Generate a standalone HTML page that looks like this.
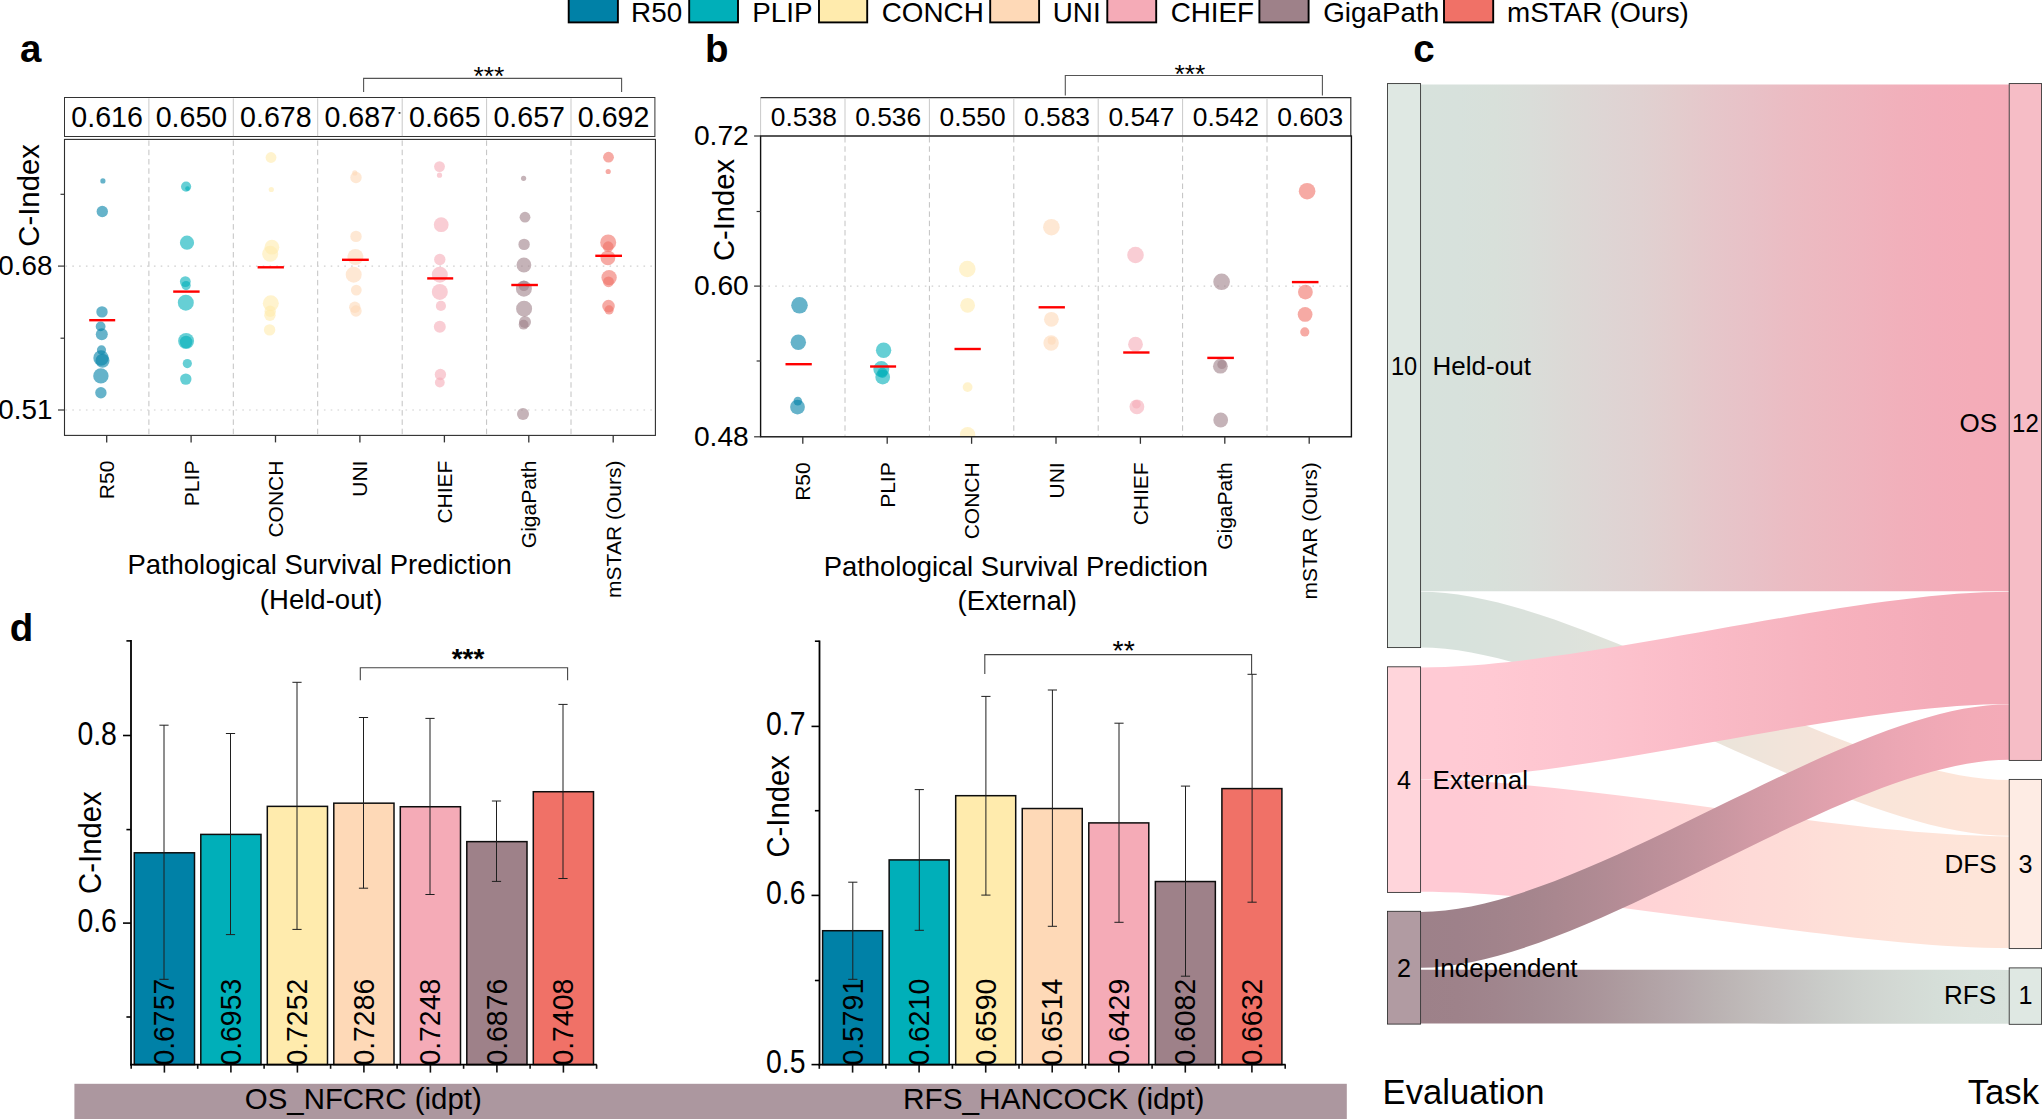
<!DOCTYPE html>
<html lang="en">
<head>
<meta charset="utf-8">
<title>Figure: survival prediction comparison</title>
<style>
html,body{margin:0;padding:0;background:#fff;}
body{width:2042px;height:1119px;overflow:hidden;}
svg{display:block;font-family:"Liberation Sans", Arial, sans-serif;}
text{fill:#000;}
</style>
</head>
<body>
<svg width="2042" height="1119" viewBox="0 0 2042 1119">
<rect x="0" y="0" width="2042" height="1119" fill="#fff"/>
<rect x="568.70" y="-3.00" width="49.20" height="25.40" fill="#0081A7" stroke="#000" stroke-width="1.9"/>
<text x="631.1" y="21.6" font-size="27.8">R50</text>
<rect x="689.20" y="-3.00" width="48.80" height="25.40" fill="#00AFB9" stroke="#000" stroke-width="1.9"/>
<text x="752.2" y="21.6" font-size="27.8">PLIP</text>
<rect x="819.00" y="-3.00" width="48.20" height="25.40" fill="#FFEBAD" stroke="#000" stroke-width="1.9"/>
<text x="881.8" y="21.6" font-size="27.8">CONCH</text>
<rect x="990.20" y="-3.00" width="48.90" height="25.40" fill="#FED9B7" stroke="#000" stroke-width="1.9"/>
<text x="1052.8" y="21.6" font-size="27.8">UNI</text>
<rect x="1107.30" y="-3.00" width="48.90" height="25.40" fill="#F5ABB7" stroke="#000" stroke-width="1.9"/>
<text x="1170.7" y="21.6" font-size="27.8">CHIEF</text>
<rect x="1259.40" y="-3.00" width="49.20" height="25.40" fill="#9E8189" stroke="#000" stroke-width="1.9"/>
<text x="1323.2" y="21.6" font-size="27.8">GigaPath</text>
<rect x="1444.00" y="-3.00" width="49.20" height="25.40" fill="#F07167" stroke="#000" stroke-width="1.9"/>
<text x="1507.1" y="21.6" font-size="27.8">mSTAR (Ours)</text>
<text x="20.0" y="61.7" font-size="38.5" font-weight="bold">a</text>
<text x="704.9" y="61.7" font-size="38.5" font-weight="bold">b</text>
<text x="1413.2" y="61.5" font-size="38.5" font-weight="bold">c</text>
<text x="9.8" y="641.0" font-size="38.5" font-weight="bold">d</text>
<rect x="64.50" y="97.50" width="590.40" height="39.00" fill="#fff" stroke="#333" stroke-width="1.0"/>
<line x1="148.9" y1="98.39999999999999" x2="148.9" y2="136.1" stroke="#c9c9c9" stroke-width="1"/>
<line x1="233.3" y1="98.39999999999999" x2="233.3" y2="136.1" stroke="#c9c9c9" stroke-width="1"/>
<line x1="317.7" y1="98.39999999999999" x2="317.7" y2="136.1" stroke="#c9c9c9" stroke-width="1"/>
<line x1="402.2" y1="98.39999999999999" x2="402.2" y2="136.1" stroke="#c9c9c9" stroke-width="1"/>
<line x1="486.6" y1="98.39999999999999" x2="486.6" y2="136.1" stroke="#c9c9c9" stroke-width="1"/>
<line x1="571.0" y1="98.39999999999999" x2="571.0" y2="136.1" stroke="#c9c9c9" stroke-width="1"/>
<text x="107.1" y="127.4" font-size="28.6" text-anchor="middle">0.616</text>
<text x="191.5" y="127.4" font-size="28.6" text-anchor="middle">0.650</text>
<text x="275.9" y="127.4" font-size="28.6" text-anchor="middle">0.678</text>
<text x="360.3" y="127.4" font-size="28.6" text-anchor="middle">0.687</text>
<text x="444.8" y="127.4" font-size="28.6" text-anchor="middle">0.665</text>
<text x="529.2" y="127.4" font-size="28.6" text-anchor="middle">0.657</text>
<text x="613.6" y="127.4" font-size="28.6" text-anchor="middle">0.692</text>
<line x1="148.9" y1="140.4" x2="148.9" y2="434.4" stroke="#c2c2c2" stroke-width="1.0" stroke-dasharray="5.5 3.8"/>
<line x1="233.3" y1="140.4" x2="233.3" y2="434.4" stroke="#c2c2c2" stroke-width="1.0" stroke-dasharray="5.5 3.8"/>
<line x1="317.7" y1="140.4" x2="317.7" y2="434.4" stroke="#c2c2c2" stroke-width="1.0" stroke-dasharray="5.5 3.8"/>
<line x1="402.2" y1="140.4" x2="402.2" y2="434.4" stroke="#c2c2c2" stroke-width="1.0" stroke-dasharray="5.5 3.8"/>
<line x1="486.6" y1="140.4" x2="486.6" y2="434.4" stroke="#c2c2c2" stroke-width="1.0" stroke-dasharray="5.5 3.8"/>
<line x1="571.0" y1="140.4" x2="571.0" y2="434.4" stroke="#c2c2c2" stroke-width="1.0" stroke-dasharray="5.5 3.8"/>
<line x1="65.5" y1="266.1" x2="654.4" y2="266.1" stroke="#cfcfcf" stroke-width="1.2" stroke-dasharray="1.6 5.2"/>
<line x1="65.5" y1="410.0" x2="654.4" y2="410.0" stroke="#cfcfcf" stroke-width="1.2" stroke-dasharray="1.6 5.2"/>
<clipPath id="clipA"><rect x="64.5" y="139.4" width="590.9" height="296.0"/></clipPath>
<g clip-path="url(#clipA)" fill-opacity="0.6">
<circle cx="102.9" cy="180.9" r="2.6" fill="#0081A7"/>
<circle cx="102.3" cy="211.5" r="5.7" fill="#0081A7"/>
<circle cx="102.0" cy="311.9" r="5.7" fill="#0081A7"/>
<circle cx="100.6" cy="326.4" r="4.9" fill="#0081A7"/>
<circle cx="101.8" cy="334.2" r="6.0" fill="#0081A7"/>
<circle cx="101.5" cy="349.9" r="4.6" fill="#0081A7"/>
<circle cx="101.0" cy="358.0" r="7.7" fill="#0081A7"/>
<circle cx="102.5" cy="360.8" r="7.0" fill="#0081A7"/>
<circle cx="100.9" cy="375.9" r="7.7" fill="#0081A7"/>
<circle cx="100.9" cy="392.8" r="5.7" fill="#0081A7"/>
<circle cx="186.1" cy="186.6" r="5.1" fill="#00AFB9"/>
<circle cx="187.5" cy="188.6" r="2.3" fill="#00AFB9"/>
<circle cx="187.0" cy="242.7" r="7.1" fill="#00AFB9"/>
<circle cx="185.3" cy="281.6" r="5.4" fill="#00AFB9"/>
<circle cx="186.1" cy="285.6" r="4.6" fill="#00AFB9"/>
<circle cx="185.8" cy="302.7" r="8.0" fill="#00AFB9"/>
<circle cx="186.1" cy="341.0" r="8.0" fill="#00AFB9"/>
<circle cx="186.1" cy="342.0" r="6.3" fill="#00AFB9"/>
<circle cx="187.3" cy="363.6" r="4.6" fill="#00AFB9"/>
<circle cx="185.8" cy="379.1" r="5.7" fill="#00AFB9"/>
<circle cx="271.0" cy="157.5" r="5.4" fill="#FFEBAD"/>
<circle cx="271.3" cy="189.5" r="2.6" fill="#FFEBAD"/>
<circle cx="271.9" cy="247.2" r="7.4" fill="#FFEBAD"/>
<circle cx="270.2" cy="253.8" r="8.0" fill="#FFEBAD"/>
<circle cx="270.8" cy="303.3" r="8.0" fill="#FFEBAD"/>
<circle cx="270.2" cy="311.3" r="5.7" fill="#FFEBAD"/>
<circle cx="269.9" cy="315.3" r="5.7" fill="#FFEBAD"/>
<circle cx="269.6" cy="329.9" r="5.7" fill="#FFEBAD"/>
<circle cx="354.8" cy="172.9" r="2.6" fill="#FED9B7"/>
<circle cx="356.0" cy="177.5" r="5.7" fill="#FED9B7"/>
<circle cx="356.0" cy="236.4" r="5.7" fill="#FED9B7"/>
<circle cx="355.4" cy="257.0" r="8.0" fill="#FED9B7"/>
<circle cx="353.7" cy="274.7" r="8.0" fill="#FED9B7"/>
<circle cx="356.3" cy="290.1" r="5.4" fill="#FED9B7"/>
<circle cx="354.8" cy="307.3" r="5.7" fill="#FED9B7"/>
<circle cx="356.0" cy="311.0" r="5.7" fill="#FED9B7"/>
<circle cx="439.5" cy="166.6" r="5.4" fill="#F5ABB7"/>
<circle cx="439.5" cy="175.2" r="2.6" fill="#F5ABB7"/>
<circle cx="441.2" cy="224.7" r="7.4" fill="#F5ABB7"/>
<circle cx="439.8" cy="259.5" r="5.7" fill="#F5ABB7"/>
<circle cx="439.8" cy="274.7" r="8.0" fill="#F5ABB7"/>
<circle cx="439.8" cy="291.9" r="8.0" fill="#F5ABB7"/>
<circle cx="440.9" cy="305.9" r="5.1" fill="#F5ABB7"/>
<circle cx="439.8" cy="326.7" r="6.0" fill="#F5ABB7"/>
<circle cx="440.4" cy="374.5" r="5.7" fill="#F5ABB7"/>
<circle cx="439.8" cy="382.5" r="4.9" fill="#F5ABB7"/>
<circle cx="523.6" cy="178.3" r="2.6" fill="#9E8189"/>
<circle cx="525.0" cy="217.2" r="5.4" fill="#9E8189"/>
<circle cx="524.1" cy="244.4" r="5.7" fill="#9E8189"/>
<circle cx="523.9" cy="265.0" r="7.4" fill="#9E8189"/>
<circle cx="523.9" cy="288.7" r="8.0" fill="#9E8189"/>
<circle cx="523.9" cy="285.8" r="5.2" fill="#9E8189"/>
<circle cx="524.1" cy="308.7" r="8.0" fill="#9E8189"/>
<circle cx="525.0" cy="321.9" r="6.0" fill="#9E8189"/>
<circle cx="523.6" cy="324.7" r="4.9" fill="#9E8189"/>
<circle cx="523.0" cy="414.0" r="6.0" fill="#9E8189"/>
<circle cx="608.5" cy="157.2" r="5.4" fill="#F07167"/>
<circle cx="608.2" cy="171.5" r="2.6" fill="#F07167"/>
<circle cx="608.2" cy="242.4" r="8.0" fill="#F07167"/>
<circle cx="608.2" cy="246.7" r="5.4" fill="#F07167"/>
<circle cx="607.9" cy="257.8" r="7.4" fill="#F07167"/>
<circle cx="609.1" cy="277.6" r="7.7" fill="#F07167"/>
<circle cx="608.5" cy="281.8" r="5.4" fill="#F07167"/>
<circle cx="608.5" cy="306.1" r="6.3" fill="#F07167"/>
<circle cx="609.1" cy="309.9" r="4.6" fill="#F07167"/>
</g>
<line x1="89.2" y1="320.2" x2="115.2" y2="320.2" stroke="#FF0000" stroke-width="2.4"/>
<line x1="173.2" y1="291.6" x2="199.6" y2="291.6" stroke="#FF0000" stroke-width="2.4"/>
<line x1="257.6" y1="267.3" x2="283.9" y2="267.3" stroke="#FF0000" stroke-width="2.4"/>
<line x1="342.0" y1="259.8" x2="368.8" y2="259.8" stroke="#FF0000" stroke-width="2.4"/>
<line x1="427.2" y1="278.4" x2="453.2" y2="278.4" stroke="#FF0000" stroke-width="2.4"/>
<line x1="511.3" y1="285.0" x2="537.9" y2="285.0" stroke="#FF0000" stroke-width="2.4"/>
<line x1="595.3" y1="255.8" x2="622.0" y2="255.8" stroke="#FF0000" stroke-width="2.4"/>
<rect x="64.50" y="139.40" width="590.90" height="296.00" fill="none" stroke="#2e2e2e" stroke-width="1.1"/>
<line x1="106.7" y1="435.4" x2="106.7" y2="442.4" stroke="#333" stroke-width="1.3"/>
<text x="114.3" y="460.6" font-size="21.0" text-anchor="end" transform="rotate(-90 114.3 460.6)">R50</text>
<line x1="191.1" y1="435.4" x2="191.1" y2="442.4" stroke="#333" stroke-width="1.3"/>
<text x="198.7" y="460.6" font-size="21.0" text-anchor="end" transform="rotate(-90 198.7 460.6)">PLIP</text>
<line x1="275.5" y1="435.4" x2="275.5" y2="442.4" stroke="#333" stroke-width="1.3"/>
<text x="283.1" y="460.6" font-size="21.0" text-anchor="end" transform="rotate(-90 283.1 460.6)">CONCH</text>
<line x1="359.9" y1="435.4" x2="359.9" y2="442.4" stroke="#333" stroke-width="1.3"/>
<text x="367.5" y="460.6" font-size="21.0" text-anchor="end" transform="rotate(-90 367.5 460.6)">UNI</text>
<line x1="444.4" y1="435.4" x2="444.4" y2="442.4" stroke="#333" stroke-width="1.3"/>
<text x="452.0" y="460.6" font-size="21.0" text-anchor="end" transform="rotate(-90 452.0 460.6)">CHIEF</text>
<line x1="528.8" y1="435.4" x2="528.8" y2="442.4" stroke="#333" stroke-width="1.3"/>
<text x="536.4" y="460.6" font-size="21.0" text-anchor="end" transform="rotate(-90 536.4 460.6)">GigaPath</text>
<line x1="613.2" y1="435.4" x2="613.2" y2="442.4" stroke="#333" stroke-width="1.3"/>
<text x="620.8" y="460.6" font-size="21.0" text-anchor="end" transform="rotate(-90 620.8 460.6)">mSTAR (Ours)</text>
<line x1="58.0" y1="266.1" x2="64.5" y2="266.1" stroke="#333" stroke-width="1.2"/>
<line x1="58.0" y1="410.0" x2="64.5" y2="410.0" stroke="#333" stroke-width="1.2"/>
<line x1="60.5" y1="194.3" x2="64.5" y2="194.3" stroke="#333" stroke-width="1.2"/>
<line x1="60.5" y1="338.2" x2="64.5" y2="338.2" stroke="#333" stroke-width="1.2"/>
<text x="52.4" y="275.4" font-size="27.8" text-anchor="end">0.68</text>
<text x="52.4" y="419.3" font-size="27.8" text-anchor="end">0.51</text>
<text x="38.9" y="195.4" font-size="29.3" text-anchor="middle" transform="rotate(-90 38.9 195.4)">C-Index</text>
<text x="319.6" y="574.3" font-size="27.45" text-anchor="middle">Pathological Survival Prediction</text>
<text x="321.1" y="608.5" font-size="27.55" text-anchor="middle">(Held-out)</text>
<path d="M363.6 92.0V78.4H621.6V92.0" fill="none" stroke="#555" stroke-width="1.1"/>
<text x="488.9" y="85.0" font-size="26.5" text-anchor="middle">***</text>
<rect x="398.60" y="112.00" width="1.80" height="1.80" fill="#333"/>
<line x1="760.6" y1="97.6" x2="760.6" y2="136.0" stroke="#c9c9c9" stroke-width="1"/>
<path d="M760.6 97.6H1350.8000000000002V136.0" fill="none" stroke="#333" stroke-width="1.2"/>
<line x1="845.0" y1="98.19999999999999" x2="845.0" y2="135.4" stroke="#c9c9c9" stroke-width="1"/>
<line x1="929.4" y1="98.19999999999999" x2="929.4" y2="135.4" stroke="#c9c9c9" stroke-width="1"/>
<line x1="1013.8" y1="98.19999999999999" x2="1013.8" y2="135.4" stroke="#c9c9c9" stroke-width="1"/>
<line x1="1098.2" y1="98.19999999999999" x2="1098.2" y2="135.4" stroke="#c9c9c9" stroke-width="1"/>
<line x1="1182.6" y1="98.19999999999999" x2="1182.6" y2="135.4" stroke="#c9c9c9" stroke-width="1"/>
<line x1="1267.0" y1="98.19999999999999" x2="1267.0" y2="135.4" stroke="#c9c9c9" stroke-width="1"/>
<text x="803.8" y="126.3" font-size="26.4" text-anchor="middle">0.538</text>
<text x="888.2" y="126.3" font-size="26.4" text-anchor="middle">0.536</text>
<text x="972.6" y="126.3" font-size="26.4" text-anchor="middle">0.550</text>
<text x="1057.0" y="126.3" font-size="26.4" text-anchor="middle">0.583</text>
<text x="1141.4" y="126.3" font-size="26.4" text-anchor="middle">0.547</text>
<text x="1225.8" y="126.3" font-size="26.4" text-anchor="middle">0.542</text>
<text x="1310.2" y="126.3" font-size="26.4" text-anchor="middle">0.603</text>
<line x1="845.0" y1="137.0" x2="845.0" y2="435.8" stroke="#c2c2c2" stroke-width="1.0" stroke-dasharray="5.5 3.8"/>
<line x1="929.4" y1="137.0" x2="929.4" y2="435.8" stroke="#c2c2c2" stroke-width="1.0" stroke-dasharray="5.5 3.8"/>
<line x1="1013.8" y1="137.0" x2="1013.8" y2="435.8" stroke="#c2c2c2" stroke-width="1.0" stroke-dasharray="5.5 3.8"/>
<line x1="1098.2" y1="137.0" x2="1098.2" y2="435.8" stroke="#c2c2c2" stroke-width="1.0" stroke-dasharray="5.5 3.8"/>
<line x1="1182.6" y1="137.0" x2="1182.6" y2="435.8" stroke="#c2c2c2" stroke-width="1.0" stroke-dasharray="5.5 3.8"/>
<line x1="1267.0" y1="137.0" x2="1267.0" y2="435.8" stroke="#c2c2c2" stroke-width="1.0" stroke-dasharray="5.5 3.8"/>
<line x1="761.6" y1="286.1" x2="1350.4" y2="286.1" stroke="#cfcfcf" stroke-width="1.2" stroke-dasharray="1.6 5.2"/>
<clipPath id="clipB"><rect x="760.6" y="136.0" width="590.8000000000001" height="300.8"/></clipPath>
<g clip-path="url(#clipB)" fill-opacity="0.6">
<circle cx="799.5" cy="305.3" r="8.3" fill="#0081A7"/>
<circle cx="798.3" cy="342.2" r="7.7" fill="#0081A7"/>
<circle cx="797.8" cy="401.1" r="4.3" fill="#0081A7"/>
<circle cx="797.5" cy="407.1" r="7.4" fill="#0081A7"/>
<circle cx="883.6" cy="350.2" r="7.7" fill="#00AFB9"/>
<circle cx="881.3" cy="369.1" r="8.0" fill="#00AFB9"/>
<circle cx="882.4" cy="372.8" r="5.1" fill="#00AFB9"/>
<circle cx="882.7" cy="377.1" r="7.4" fill="#00AFB9"/>
<circle cx="967.3" cy="269.0" r="8.3" fill="#FFEBAD"/>
<circle cx="967.6" cy="305.3" r="7.4" fill="#FFEBAD"/>
<circle cx="967.6" cy="387.1" r="4.9" fill="#FFEBAD"/>
<circle cx="967.6" cy="434.8" r="7.7" fill="#FFEBAD"/>
<circle cx="1051.4" cy="227.2" r="8.3" fill="#FED9B7"/>
<circle cx="1051.4" cy="319.3" r="7.4" fill="#FED9B7"/>
<circle cx="1051.1" cy="343.0" r="7.7" fill="#FED9B7"/>
<circle cx="1051.7" cy="340.8" r="4.0" fill="#FED9B7"/>
<circle cx="1135.5" cy="255.0" r="8.3" fill="#F5ABB7"/>
<circle cx="1135.5" cy="344.2" r="7.4" fill="#F5ABB7"/>
<circle cx="1136.9" cy="406.8" r="7.4" fill="#F5ABB7"/>
<circle cx="1136.4" cy="404.2" r="4.3" fill="#F5ABB7"/>
<circle cx="1221.6" cy="281.8" r="8.3" fill="#9E8189"/>
<circle cx="1220.4" cy="366.2" r="7.4" fill="#9E8189"/>
<circle cx="1221.9" cy="364.5" r="4.6" fill="#9E8189"/>
<circle cx="1220.7" cy="420.0" r="7.4" fill="#9E8189"/>
<circle cx="1307.1" cy="191.2" r="8.3" fill="#F07167"/>
<circle cx="1305.4" cy="292.1" r="7.4" fill="#F07167"/>
<circle cx="1305.1" cy="314.4" r="7.4" fill="#F07167"/>
<circle cx="1304.8" cy="331.9" r="4.6" fill="#F07167"/>
</g>
<line x1="785.5" y1="364.2" x2="811.8" y2="364.2" stroke="#FF0000" stroke-width="2.4"/>
<line x1="870.1" y1="366.5" x2="896.1" y2="366.5" stroke="#FF0000" stroke-width="2.4"/>
<line x1="954.5" y1="349.0" x2="980.8" y2="349.0" stroke="#FF0000" stroke-width="2.4"/>
<line x1="1038.6" y1="307.3" x2="1064.9" y2="307.3" stroke="#FF0000" stroke-width="2.4"/>
<line x1="1123.2" y1="352.5" x2="1149.5" y2="352.5" stroke="#FF0000" stroke-width="2.4"/>
<line x1="1207.3" y1="357.9" x2="1233.9" y2="357.9" stroke="#FF0000" stroke-width="2.4"/>
<line x1="1291.9" y1="282.1" x2="1318.5" y2="282.1" stroke="#FF0000" stroke-width="2.4"/>
<rect x="760.60" y="136.00" width="590.80" height="300.80" fill="none" stroke="#111" stroke-width="1.4"/>
<line x1="802.8" y1="436.8" x2="802.8" y2="443.8" stroke="#333" stroke-width="1.3"/>
<text x="810.4" y="462.3" font-size="21.0" text-anchor="end" transform="rotate(-90 810.4 462.3)">R50</text>
<line x1="887.2" y1="436.8" x2="887.2" y2="443.8" stroke="#333" stroke-width="1.3"/>
<text x="894.8" y="462.3" font-size="21.0" text-anchor="end" transform="rotate(-90 894.8 462.3)">PLIP</text>
<line x1="971.6" y1="436.8" x2="971.6" y2="443.8" stroke="#333" stroke-width="1.3"/>
<text x="979.2" y="462.3" font-size="21.0" text-anchor="end" transform="rotate(-90 979.2 462.3)">CONCH</text>
<line x1="1056.0" y1="436.8" x2="1056.0" y2="443.8" stroke="#333" stroke-width="1.3"/>
<text x="1063.6" y="462.3" font-size="21.0" text-anchor="end" transform="rotate(-90 1063.6 462.3)">UNI</text>
<line x1="1140.4" y1="436.8" x2="1140.4" y2="443.8" stroke="#333" stroke-width="1.3"/>
<text x="1148.0" y="462.3" font-size="21.0" text-anchor="end" transform="rotate(-90 1148.0 462.3)">CHIEF</text>
<line x1="1224.8" y1="436.8" x2="1224.8" y2="443.8" stroke="#333" stroke-width="1.3"/>
<text x="1232.4" y="462.3" font-size="21.0" text-anchor="end" transform="rotate(-90 1232.4 462.3)">GigaPath</text>
<line x1="1309.2" y1="436.8" x2="1309.2" y2="443.8" stroke="#333" stroke-width="1.3"/>
<text x="1316.8" y="462.3" font-size="21.0" text-anchor="end" transform="rotate(-90 1316.8 462.3)">mSTAR (Ours)</text>
<line x1="754.1" y1="136.0" x2="760.6" y2="136.0" stroke="#333" stroke-width="1.2"/>
<line x1="754.1" y1="286.1" x2="760.6" y2="286.1" stroke="#333" stroke-width="1.2"/>
<line x1="754.1" y1="436.8" x2="760.6" y2="436.8" stroke="#333" stroke-width="1.2"/>
<line x1="756.6" y1="211.5" x2="760.6" y2="211.5" stroke="#333" stroke-width="1.2"/>
<line x1="756.6" y1="361.0" x2="760.6" y2="361.0" stroke="#333" stroke-width="1.2"/>
<text x="748.8" y="145.3" font-size="28.2" text-anchor="end">0.72</text>
<text x="748.8" y="295.4" font-size="28.2" text-anchor="end">0.60</text>
<text x="748.8" y="446.1" font-size="28.2" text-anchor="end">0.48</text>
<text x="734.3" y="210.0" font-size="29.2" text-anchor="middle" transform="rotate(-90 734.3 210.0)">C-Index</text>
<text x="1015.8" y="575.8" font-size="27.45" text-anchor="middle">Pathological Survival Prediction</text>
<text x="1017.3" y="609.8" font-size="27.55" text-anchor="middle">(External)</text>
<path d="M1065.3 95.6V75.5H1322.4V95.6" fill="none" stroke="#555" stroke-width="1.1"/>
<text x="1189.9" y="83.0" font-size="26.5" text-anchor="middle">***</text>
<rect x="134.30" y="852.79" width="60.20" height="211.81" fill="#0081A7" stroke="#0d0d0d" stroke-width="1.5"/>
<rect x="200.80" y="834.41" width="60.20" height="230.19" fill="#00AFB9" stroke="#0d0d0d" stroke-width="1.5"/>
<rect x="267.30" y="806.36" width="60.20" height="258.24" fill="#FFEBAD" stroke="#0d0d0d" stroke-width="1.5"/>
<rect x="333.80" y="803.17" width="60.20" height="261.43" fill="#FED9B7" stroke="#0d0d0d" stroke-width="1.5"/>
<rect x="400.30" y="806.74" width="60.20" height="257.86" fill="#F5ABB7" stroke="#0d0d0d" stroke-width="1.5"/>
<rect x="466.80" y="841.63" width="60.20" height="222.97" fill="#9E8189" stroke="#0d0d0d" stroke-width="1.5"/>
<rect x="533.30" y="791.73" width="60.20" height="272.87" fill="#F07167" stroke="#0d0d0d" stroke-width="1.5"/>
<path d="M164.0 725.2V979.3M159.4 725.2h9.2M159.4 979.3h9.2" fill="none" stroke="#1f1f1f" stroke-width="1"/>
<text x="174.5" y="1065.6" font-size="29.3" transform="rotate(-90 174.5 1065.6)" textLength="86.8" lengthAdjust="spacingAndGlyphs">0.6757</text>
<line x1="164.4" y1="1064.6" x2="164.4" y2="1072.6" stroke="#111" stroke-width="1.6"/>
<path d="M230.5 733.5V934.6M225.9 733.5h9.2M225.9 934.6h9.2" fill="none" stroke="#1f1f1f" stroke-width="1"/>
<text x="241.0" y="1065.6" font-size="29.3" transform="rotate(-90 241.0 1065.6)" textLength="86.8" lengthAdjust="spacingAndGlyphs">0.6953</text>
<line x1="230.9" y1="1064.6" x2="230.9" y2="1072.6" stroke="#111" stroke-width="1.6"/>
<path d="M297.0 682.3V929.4M292.4 682.3h9.2M292.4 929.4h9.2" fill="none" stroke="#1f1f1f" stroke-width="1"/>
<text x="307.5" y="1065.6" font-size="29.3" transform="rotate(-90 307.5 1065.6)" textLength="86.8" lengthAdjust="spacingAndGlyphs">0.7252</text>
<line x1="297.4" y1="1064.6" x2="297.4" y2="1072.6" stroke="#111" stroke-width="1.6"/>
<path d="M363.5 717.5V888.2M358.9 717.5h9.2M358.9 888.2h9.2" fill="none" stroke="#1f1f1f" stroke-width="1"/>
<text x="374.0" y="1065.6" font-size="29.3" transform="rotate(-90 374.0 1065.6)" textLength="86.8" lengthAdjust="spacingAndGlyphs">0.7286</text>
<line x1="363.9" y1="1064.6" x2="363.9" y2="1072.6" stroke="#111" stroke-width="1.6"/>
<path d="M430.0 718.4V894.5M425.4 718.4h9.2M425.4 894.5h9.2" fill="none" stroke="#1f1f1f" stroke-width="1"/>
<text x="440.5" y="1065.6" font-size="29.3" transform="rotate(-90 440.5 1065.6)" textLength="86.8" lengthAdjust="spacingAndGlyphs">0.7248</text>
<line x1="430.4" y1="1064.6" x2="430.4" y2="1072.6" stroke="#111" stroke-width="1.6"/>
<path d="M496.5 801.0V881.4M491.9 801.0h9.2M491.9 881.4h9.2" fill="none" stroke="#1f1f1f" stroke-width="1"/>
<text x="507.0" y="1065.6" font-size="29.3" transform="rotate(-90 507.0 1065.6)" textLength="86.8" lengthAdjust="spacingAndGlyphs">0.6876</text>
<line x1="496.9" y1="1064.6" x2="496.9" y2="1072.6" stroke="#111" stroke-width="1.6"/>
<path d="M563.0 704.4V878.5M558.4 704.4h9.2M558.4 878.5h9.2" fill="none" stroke="#1f1f1f" stroke-width="1"/>
<text x="573.5" y="1065.6" font-size="29.3" transform="rotate(-90 573.5 1065.6)" textLength="86.8" lengthAdjust="spacingAndGlyphs">0.7408</text>
<line x1="563.4" y1="1064.6" x2="563.4" y2="1072.6" stroke="#111" stroke-width="1.6"/>
<line x1="131.2" y1="1064.6" x2="131.2" y2="1068.8" stroke="#111" stroke-width="1.6"/>
<line x1="197.7" y1="1064.6" x2="197.7" y2="1068.8" stroke="#111" stroke-width="1.6"/>
<line x1="264.1" y1="1064.6" x2="264.1" y2="1068.8" stroke="#111" stroke-width="1.6"/>
<line x1="330.6" y1="1064.6" x2="330.6" y2="1068.8" stroke="#111" stroke-width="1.6"/>
<line x1="397.1" y1="1064.6" x2="397.1" y2="1068.8" stroke="#111" stroke-width="1.6"/>
<line x1="463.6" y1="1064.6" x2="463.6" y2="1068.8" stroke="#111" stroke-width="1.6"/>
<line x1="530.1" y1="1064.6" x2="530.1" y2="1068.8" stroke="#111" stroke-width="1.6"/>
<line x1="596.6" y1="1064.6" x2="596.6" y2="1068.8" stroke="#111" stroke-width="1.6"/>
<line x1="131.0" y1="640.1" x2="131.0" y2="1065.5" stroke="#000" stroke-width="1.8"/>
<line x1="130.1" y1="1064.6" x2="596.8" y2="1064.6" stroke="#000" stroke-width="1.8"/>
<line x1="123.0" y1="735.5" x2="131.0" y2="735.5" stroke="#000" stroke-width="1.6"/>
<line x1="123.0" y1="923.1" x2="131.0" y2="923.1" stroke="#000" stroke-width="1.6"/>
<line x1="126.4" y1="640.9" x2="131.0" y2="640.9" stroke="#000" stroke-width="1.6"/>
<line x1="126.4" y1="829.6" x2="131.0" y2="829.6" stroke="#000" stroke-width="1.6"/>
<line x1="126.4" y1="1017.0" x2="131.0" y2="1017.0" stroke="#000" stroke-width="1.6"/>
<text x="0" y="0" font-size="28.4" text-anchor="end" transform="translate(116.9 744.5) scale(1 1.14)">0.8</text>
<text x="0" y="0" font-size="28.4" text-anchor="end" transform="translate(116.9 932.1) scale(1 1.14)">0.6</text>
<text x="0" y="0" font-size="29.3" text-anchor="middle" transform="translate(101.3 842.6) rotate(-90) scale(1 1.08)">C-Index</text>
<path d="M360.3 680.2V667.8H567.6V680.2" fill="none" stroke="#444" stroke-width="1.1"/>
<text x="468.0" y="667.8" font-size="27.9" text-anchor="middle" font-weight="bold">***</text>
<rect x="822.60" y="930.72" width="60.00" height="133.88" fill="#0081A7" stroke="#0d0d0d" stroke-width="1.5"/>
<rect x="889.15" y="859.91" width="60.00" height="204.69" fill="#00AFB9" stroke="#0d0d0d" stroke-width="1.5"/>
<rect x="955.70" y="795.69" width="60.00" height="268.91" fill="#FFEBAD" stroke="#0d0d0d" stroke-width="1.5"/>
<rect x="1022.25" y="808.53" width="60.00" height="256.07" fill="#FED9B7" stroke="#0d0d0d" stroke-width="1.5"/>
<rect x="1088.80" y="822.90" width="60.00" height="241.70" fill="#F5ABB7" stroke="#0d0d0d" stroke-width="1.5"/>
<rect x="1155.35" y="881.54" width="60.00" height="183.06" fill="#9E8189" stroke="#0d0d0d" stroke-width="1.5"/>
<rect x="1221.90" y="788.59" width="60.00" height="276.01" fill="#F07167" stroke="#0d0d0d" stroke-width="1.5"/>
<path d="M852.8 882.2V979.3M848.2 882.2h9.2M848.2 979.3h9.2" fill="none" stroke="#1f1f1f" stroke-width="1"/>
<text x="862.7" y="1065.6" font-size="29.3" transform="rotate(-90 862.7 1065.6)" textLength="86.8" lengthAdjust="spacingAndGlyphs">0.5791</text>
<line x1="852.6" y1="1064.6" x2="852.6" y2="1072.6" stroke="#111" stroke-width="1.6"/>
<path d="M919.3 789.6V930.3M914.7 789.6h9.2M914.7 930.3h9.2" fill="none" stroke="#1f1f1f" stroke-width="1"/>
<text x="929.2" y="1065.6" font-size="29.3" transform="rotate(-90 929.2 1065.6)" textLength="86.8" lengthAdjust="spacingAndGlyphs">0.6210</text>
<line x1="919.1" y1="1064.6" x2="919.1" y2="1072.6" stroke="#111" stroke-width="1.6"/>
<path d="M985.9 696.4V895.1M981.3 696.4h9.2M981.3 895.1h9.2" fill="none" stroke="#1f1f1f" stroke-width="1"/>
<text x="995.8" y="1065.6" font-size="29.3" transform="rotate(-90 995.8 1065.6)" textLength="86.8" lengthAdjust="spacingAndGlyphs">0.6590</text>
<line x1="985.7" y1="1064.6" x2="985.7" y2="1072.6" stroke="#111" stroke-width="1.6"/>
<path d="M1052.4 690.0V926.3M1047.8 690.0h9.2M1047.8 926.3h9.2" fill="none" stroke="#1f1f1f" stroke-width="1"/>
<text x="1062.3" y="1065.6" font-size="29.3" transform="rotate(-90 1062.3 1065.6)" textLength="86.8" lengthAdjust="spacingAndGlyphs">0.6514</text>
<line x1="1052.2" y1="1064.6" x2="1052.2" y2="1072.6" stroke="#111" stroke-width="1.6"/>
<path d="M1119.0 723.2V922.3M1114.4 723.2h9.2M1114.4 922.3h9.2" fill="none" stroke="#1f1f1f" stroke-width="1"/>
<text x="1128.9" y="1065.6" font-size="29.3" transform="rotate(-90 1128.9 1065.6)" textLength="86.8" lengthAdjust="spacingAndGlyphs">0.6429</text>
<line x1="1118.8" y1="1064.6" x2="1118.8" y2="1072.6" stroke="#111" stroke-width="1.6"/>
<path d="M1185.5 786.1V976.2M1180.9 786.1h9.2M1180.9 976.2h9.2" fill="none" stroke="#1f1f1f" stroke-width="1"/>
<text x="1195.4" y="1065.6" font-size="29.3" transform="rotate(-90 1195.4 1065.6)" textLength="86.8" lengthAdjust="spacingAndGlyphs">0.6082</text>
<line x1="1185.3" y1="1064.6" x2="1185.3" y2="1072.6" stroke="#111" stroke-width="1.6"/>
<path d="M1252.1 674.3V902.2M1247.5 674.3h9.2M1247.5 902.2h9.2" fill="none" stroke="#1f1f1f" stroke-width="1"/>
<text x="1262.0" y="1065.6" font-size="29.3" transform="rotate(-90 1262.0 1065.6)" textLength="86.8" lengthAdjust="spacingAndGlyphs">0.6632</text>
<line x1="1251.9" y1="1064.6" x2="1251.9" y2="1072.6" stroke="#111" stroke-width="1.6"/>
<line x1="819.3" y1="1064.6" x2="819.3" y2="1068.8" stroke="#111" stroke-width="1.6"/>
<line x1="885.9" y1="1064.6" x2="885.9" y2="1068.8" stroke="#111" stroke-width="1.6"/>
<line x1="952.4" y1="1064.6" x2="952.4" y2="1068.8" stroke="#111" stroke-width="1.6"/>
<line x1="1019.0" y1="1064.6" x2="1019.0" y2="1068.8" stroke="#111" stroke-width="1.6"/>
<line x1="1085.5" y1="1064.6" x2="1085.5" y2="1068.8" stroke="#111" stroke-width="1.6"/>
<line x1="1152.1" y1="1064.6" x2="1152.1" y2="1068.8" stroke="#111" stroke-width="1.6"/>
<line x1="1218.6" y1="1064.6" x2="1218.6" y2="1068.8" stroke="#111" stroke-width="1.6"/>
<line x1="1285.2" y1="1064.6" x2="1285.2" y2="1068.8" stroke="#111" stroke-width="1.6"/>
<line x1="819.5" y1="640.4000000000001" x2="819.5" y2="1065.5" stroke="#000" stroke-width="1.8"/>
<line x1="818.6" y1="1064.6" x2="1285.6" y2="1064.6" stroke="#000" stroke-width="1.8"/>
<line x1="811.5" y1="726.4" x2="819.5" y2="726.4" stroke="#000" stroke-width="1.6"/>
<line x1="811.5" y1="895.4" x2="819.5" y2="895.4" stroke="#000" stroke-width="1.6"/>
<line x1="811.5" y1="1064.6" x2="819.5" y2="1064.6" stroke="#000" stroke-width="1.6"/>
<line x1="814.9" y1="641.2" x2="819.5" y2="641.2" stroke="#000" stroke-width="1.6"/>
<line x1="814.9" y1="810.7" x2="819.5" y2="810.7" stroke="#000" stroke-width="1.6"/>
<line x1="814.9" y1="980.5" x2="819.5" y2="980.5" stroke="#000" stroke-width="1.6"/>
<text x="0" y="0" font-size="28.4" text-anchor="end" transform="translate(805.5 735.4) scale(1 1.14)">0.7</text>
<text x="0" y="0" font-size="28.4" text-anchor="end" transform="translate(805.5 904.4) scale(1 1.14)">0.6</text>
<text x="0" y="0" font-size="28.4" text-anchor="end" transform="translate(805.5 1073.4) scale(1 1.14)">0.5</text>
<text x="0" y="0" font-size="29.3" text-anchor="middle" transform="translate(789.2 806.3) rotate(-90) scale(1 1.08)">C-Index</text>
<path d="M984.8 674.0V654.6H1251.6V674.0" fill="none" stroke="#444" stroke-width="1.1"/>
<text x="1123.7" y="659.7" font-size="28.5" text-anchor="middle">**</text>
<rect x="74.40" y="1083.80" width="1272.40" height="40.00" fill="#AC979F"/>
<text x="0" y="0" font-size="28.2" transform="translate(244.79999999999998 1109.2) scale(1 1.06)" textLength="237" lengthAdjust="spacingAndGlyphs">OS_NFCRC (idpt)</text>
<text x="0" y="0" font-size="28.2" transform="translate(902.9 1109.2) scale(1 1.06)" textLength="301.5" lengthAdjust="spacingAndGlyphs">RFS_HANCOCK (idpt)</text>
<defs>
<linearGradient id="g_ho" gradientUnits="userSpaceOnUse" x1="1420.6" y1="0" x2="2009.2" y2="0"><stop offset="0.0000" stop-color="#D7E2DC"/><stop offset="0.0625" stop-color="#D7E1DC"/><stop offset="0.1250" stop-color="#D8E0DA"/><stop offset="0.1875" stop-color="#DADDD9"/><stop offset="0.2500" stop-color="#DCD9D6"/><stop offset="0.3125" stop-color="#DED5D4"/><stop offset="0.3750" stop-color="#E0D1D1"/><stop offset="0.4375" stop-color="#E3CCCD"/><stop offset="0.5000" stop-color="#E6C6CA"/><stop offset="0.5625" stop-color="#E8C1C7"/><stop offset="0.6250" stop-color="#EBBCC3"/><stop offset="0.6875" stop-color="#EDB8C0"/><stop offset="0.7500" stop-color="#EFB4BE"/><stop offset="0.8125" stop-color="#F1B0BB"/><stop offset="0.8750" stop-color="#F3ADBA"/><stop offset="0.9375" stop-color="#F4ACB8"/><stop offset="1.0000" stop-color="#F4ABB8"/></linearGradient>
<linearGradient id="g_hd" gradientUnits="userSpaceOnUse" x1="1420.6" y1="0" x2="2009.2" y2="0"><stop offset="0.0000" stop-color="#D7E2DC"/><stop offset="0.0625" stop-color="#D7E2DC"/><stop offset="0.1250" stop-color="#D9E2DC"/><stop offset="0.1875" stop-color="#DBE2DC"/><stop offset="0.2500" stop-color="#DDE2DC"/><stop offset="0.3125" stop-color="#E0E3DB"/><stop offset="0.3750" stop-color="#E3E3DB"/><stop offset="0.4375" stop-color="#E7E3DB"/><stop offset="0.5000" stop-color="#EAE4DA"/><stop offset="0.5625" stop-color="#EEE4DA"/><stop offset="0.6250" stop-color="#F2E4DA"/><stop offset="0.6875" stop-color="#F5E4DA"/><stop offset="0.7500" stop-color="#F8E5D9"/><stop offset="0.8125" stop-color="#FAE5D9"/><stop offset="0.8750" stop-color="#FCE5D9"/><stop offset="0.9375" stop-color="#FEE5D9"/><stop offset="1.0000" stop-color="#FEE5D9"/></linearGradient>
<linearGradient id="g_eo" gradientUnits="userSpaceOnUse" x1="1420.6" y1="0" x2="2009.2" y2="0"><stop offset="0.0000" stop-color="#FFCAD4"/><stop offset="0.0625" stop-color="#FFCAD4"/><stop offset="0.1250" stop-color="#FFC9D3"/><stop offset="0.1875" stop-color="#FEC7D1"/><stop offset="0.2500" stop-color="#FDC5D0"/><stop offset="0.3125" stop-color="#FCC3CE"/><stop offset="0.3750" stop-color="#FCC0CB"/><stop offset="0.4375" stop-color="#FBBDC9"/><stop offset="0.5000" stop-color="#FABAC6"/><stop offset="0.5625" stop-color="#F8B8C3"/><stop offset="0.6250" stop-color="#F7B5C1"/><stop offset="0.6875" stop-color="#F7B2BE"/><stop offset="0.7500" stop-color="#F6B0BC"/><stop offset="0.8125" stop-color="#F5AEBB"/><stop offset="0.8750" stop-color="#F4ACB9"/><stop offset="0.9375" stop-color="#F4ABB8"/><stop offset="1.0000" stop-color="#F4ABB8"/></linearGradient>
<linearGradient id="g_ed" gradientUnits="userSpaceOnUse" x1="1420.6" y1="0" x2="2009.2" y2="0"><stop offset="0.0000" stop-color="#FFCAD4"/><stop offset="0.0625" stop-color="#FFCAD4"/><stop offset="0.1250" stop-color="#FFCBD4"/><stop offset="0.1875" stop-color="#FFCCD4"/><stop offset="0.2500" stop-color="#FFCED5"/><stop offset="0.3125" stop-color="#FFD0D5"/><stop offset="0.3750" stop-color="#FFD3D6"/><stop offset="0.4375" stop-color="#FFD5D6"/><stop offset="0.5000" stop-color="#FED8D6"/><stop offset="0.5625" stop-color="#FEDAD7"/><stop offset="0.6250" stop-color="#FEDCD7"/><stop offset="0.6875" stop-color="#FEDFD8"/><stop offset="0.7500" stop-color="#FEE1D8"/><stop offset="0.8125" stop-color="#FEE3D9"/><stop offset="0.8750" stop-color="#FEE4D9"/><stop offset="0.9375" stop-color="#FEE5D9"/><stop offset="1.0000" stop-color="#FEE5D9"/></linearGradient>
<linearGradient id="g_io" gradientUnits="userSpaceOnUse" x1="1420.6" y1="0" x2="2009.2" y2="0"><stop offset="0.0000" stop-color="#9D8189"/><stop offset="0.0625" stop-color="#9E818A"/><stop offset="0.1250" stop-color="#A1838B"/><stop offset="0.1875" stop-color="#A5858D"/><stop offset="0.2500" stop-color="#AB8890"/><stop offset="0.3125" stop-color="#B18B94"/><stop offset="0.3750" stop-color="#B98E98"/><stop offset="0.4375" stop-color="#C0929C"/><stop offset="0.5000" stop-color="#C896A0"/><stop offset="0.5625" stop-color="#D19AA5"/><stop offset="0.6250" stop-color="#D89EA9"/><stop offset="0.6875" stop-color="#E0A1AD"/><stop offset="0.7500" stop-color="#E6A4B1"/><stop offset="0.8125" stop-color="#ECA7B4"/><stop offset="0.8750" stop-color="#F0A9B6"/><stop offset="0.9375" stop-color="#F3ABB7"/><stop offset="1.0000" stop-color="#F4ABB8"/></linearGradient>
<linearGradient id="g_ir" gradientUnits="userSpaceOnUse" x1="1420.6" y1="0" x2="2009.2" y2="0"><stop offset="0.0000" stop-color="#9D8189"/><stop offset="0.0625" stop-color="#9E828A"/><stop offset="0.1250" stop-color="#A0858D"/><stop offset="0.1875" stop-color="#A28A91"/><stop offset="0.2500" stop-color="#A69096"/><stop offset="0.3125" stop-color="#AB979C"/><stop offset="0.3750" stop-color="#B0A0A3"/><stop offset="0.4375" stop-color="#B5A8AB"/><stop offset="0.5000" stop-color="#BAB2B2"/><stop offset="0.5625" stop-color="#C0BBBA"/><stop offset="0.6250" stop-color="#C5C3C2"/><stop offset="0.6875" stop-color="#CACCC9"/><stop offset="0.7500" stop-color="#CFD3CF"/><stop offset="0.8125" stop-color="#D3D9D4"/><stop offset="0.8750" stop-color="#D5DED8"/><stop offset="0.9375" stop-color="#D7E1DB"/><stop offset="1.0000" stop-color="#D8E2DC"/></linearGradient>
</defs>
<path d="M1420.6 591.8C1585.4 591.8 1844.4 780.0 2009.2 780.0L2009.2 835.8C1844.4 835.8 1585.4 647.6 1420.6 647.6Z" fill="url(#g_hd)"/>
<path d="M1420.6 779.6C1585.4 779.6 1844.4 836.4 2009.2 836.4L2009.2 948.0C1844.4 948.0 1585.4 891.8 1420.6 891.8Z" fill="url(#g_ed)"/>
<path d="M1420.6 84.6C1585.4 84.6 1844.4 84.6 2009.2 84.6L2009.2 591.2C1844.4 591.2 1585.4 591.2 1420.6 591.2Z" fill="url(#g_ho)"/>
<path d="M1420.6 667.4C1585.4 667.4 1844.4 591.8 2009.2 591.8L2009.2 704.0C1844.4 704.0 1585.4 779.3 1420.6 779.3Z" fill="url(#g_eo)"/>
<path d="M1420.6 969.7C1585.4 969.7 1844.4 969.9 2009.2 969.9L2009.2 1023.8C1844.4 1023.8 1585.4 1023.6 1420.6 1023.6Z" fill="url(#g_ir)"/>
<path d="M1420.6 911.9C1585.4 911.9 1844.4 704.3 2009.2 704.3L2009.2 759.8C1844.4 759.8 1585.4 967.7 1420.6 967.7Z" fill="url(#g_io)"/>
<rect x="1387.50" y="83.60" width="33.10" height="564.00" fill="#DFE8E3" stroke="#2b2b2b" stroke-width="0.85"/>
<rect x="1387.50" y="666.80" width="33.10" height="225.60" fill="#FFD5DB" stroke="#2b2b2b" stroke-width="0.85"/>
<rect x="1387.50" y="911.30" width="33.10" height="112.80" fill="#B19BA2" stroke="#2b2b2b" stroke-width="0.85"/>
<rect x="2009.20" y="83.60" width="32.40" height="676.80" fill="#F6BDC6" stroke="#2b2b2b" stroke-width="0.85"/>
<rect x="2009.20" y="779.40" width="32.40" height="169.20" fill="#FEECE4" stroke="#2b2b2b" stroke-width="0.85"/>
<rect x="2009.20" y="967.90" width="32.40" height="56.40" fill="#DFE8E3" stroke="#2b2b2b" stroke-width="0.85"/>
<text x="1404.0" y="375.4" font-size="25.2" text-anchor="middle" textLength="26.2" lengthAdjust="spacingAndGlyphs">10</text>
<text x="1432.6" y="375.4" font-size="26.0">Held-out</text>
<text x="1404.0" y="788.8" font-size="25.2" text-anchor="middle">4</text>
<text x="1432.6" y="788.8" font-size="26.0">External</text>
<text x="1404.0" y="977.0" font-size="25.2" text-anchor="middle">2</text>
<text x="1433.0" y="977.0" font-size="26.0">Independent</text>
<text x="1997.0" y="431.5" font-size="26.0" text-anchor="end">OS</text>
<text x="2025.4" y="431.5" font-size="25.2" text-anchor="middle" textLength="26.6" lengthAdjust="spacingAndGlyphs">12</text>
<text x="1996.5" y="873.2" font-size="26.0" text-anchor="end">DFS</text>
<text x="2025.4" y="873.2" font-size="25.2" text-anchor="middle">3</text>
<text x="1996.0" y="1004.0" font-size="26.0" text-anchor="end">RFS</text>
<text x="2025.4" y="1004.0" font-size="25.2" text-anchor="middle">1</text>
<text x="1382.6" y="1103.5" font-size="34.7">Evaluation</text>
<text x="2039.0" y="1103.5" font-size="34.7" text-anchor="end">Task</text>
</svg>
</body>
</html>
